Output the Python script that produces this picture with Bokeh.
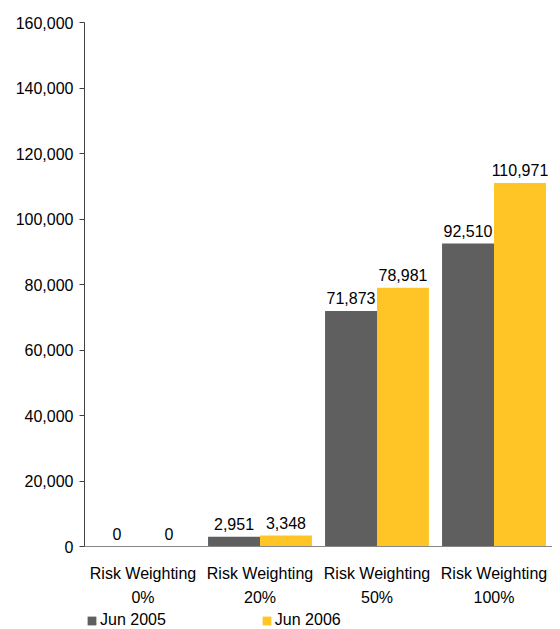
from bokeh.plotting import figure
from bokeh.layouts import column
from bokeh.models import ColumnDataSource, FactorRange, Range1d, LabelSet, Legend, LegendItem, NumeralTickFormatter, FixedTicker
from bokeh.transform import dodge
from bokeh.core.properties import value
from bokeh.embed import file_html
from bokeh.resources import INLINE

categories = ["Risk Weighting\n0%", "Risk Weighting\n20%", "Risk Weighting\n50%", "Risk Weighting\n100%"]
series_names = ["Jun 2005", "Jun 2006"]
jun_2005 = [0, 2951, 71873, 92510]
jun_2006 = [0, 3348, 78981, 110971]
y_ticks = [0, 20000, 40000, 60000, 80000, 100000, 120000, 140000, 160000]

GREY = "#5f5f5f"
YELLOW = "#ffc526"
FONT = "Liberation Sans"
FS = "16px"

src = ColumnDataSource(dict(
    cat=categories,
    a=jun_2005,
    b=jun_2006,
    la=[f"{v:,}" for v in jun_2005],
    lb=[f"{v:,}" for v in jun_2006],
))

p = figure(x_range=FactorRange(*categories, range_padding=0), y_range=Range1d(0, 160000),
           width=552, height=609, output_backend="svg", toolbar_location=None,
           min_border_left=84, min_border_right=0, min_border_top=22, min_border_bottom=53)
p.x_range.factor_padding = 0

r1 = p.vbar(x=dodge("cat", -0.222, range=p.x_range), top="a", width=0.444, source=src,
            fill_color=GREY, line_color=None)
r2 = p.vbar(x=dodge("cat", 0.222, range=p.x_range), top="b", width=0.444, source=src,
            fill_color=YELLOW, line_color=None)

for col, off, top in (("la", -0.222, "a"), ("lb", 0.222, "b")):
    lbl = LabelSet(x=dodge("cat", off, range=p.x_range), y=top, text=col, source=src,
                   text_align="center", text_baseline="bottom", y_offset=7,
                   text_font=value(FONT), text_font_size=value(FS), text_color="#000000")
    p.add_layout(lbl)

p.xgrid.visible = False
p.ygrid.visible = False
p.outline_line_color = None

p.yaxis.ticker = FixedTicker(ticks=y_ticks)
p.yaxis.formatter = NumeralTickFormatter(format="0,0")
p.yaxis.major_label_text_font = FONT
p.yaxis.major_label_text_font_size = FS
p.yaxis.major_label_text_color = "#000000"
p.yaxis.axis_line_color = "#404040"
p.yaxis.major_tick_line_color = "#404040"
p.yaxis.major_tick_in = 0
p.yaxis.major_tick_out = 5
p.yaxis.minor_tick_line_color = None
p.yaxis.major_label_standoff = 6

p.xaxis.major_label_text_font = FONT
p.xaxis.major_label_text_font_size = FS
p.xaxis.major_label_text_color = "#000000"
p.xaxis.major_label_text_line_height = 1.45
p.xaxis.axis_line_color = "#888888"
p.xaxis.major_tick_line_color = None
p.xaxis.minor_tick_line_color = None
p.xaxis.major_label_standoff = 12

# legend strip below the chart (swatches drawn off-range, only used by the legend)
q = figure(width=552, height=20, output_backend="svg", toolbar_location=None,
           x_range=Range1d(0, 1), y_range=Range1d(0, 1), min_border=0)
q.axis.visible = False
q.xgrid.visible = False
q.ygrid.visible = False
q.outline_line_color = None
g1 = q.vbar(x=[-5], top=[-5], width=0.1, fill_color=GREY, line_color=None)
g2 = q.vbar(x=[-5], top=[-5], width=0.1, fill_color=YELLOW, line_color=None)

legend = Legend(items=[LegendItem(label=series_names[0], renderers=[g1]),
                       LegendItem(label=series_names[1], renderers=[g2])],
                orientation="horizontal", location=(2, 0),
                glyph_width=11, glyph_height=11, label_standoff=3, spacing=95,
                label_text_font=FONT, label_text_font_size=FS, label_text_color="#000000",
                label_text_align="left",
                border_line_color=None, background_fill_alpha=0, padding=0, margin=0)
q.add_layout(legend)

layout = column(p, q, spacing=0)
open("out.html", "w").write(file_html(layout, INLINE))
